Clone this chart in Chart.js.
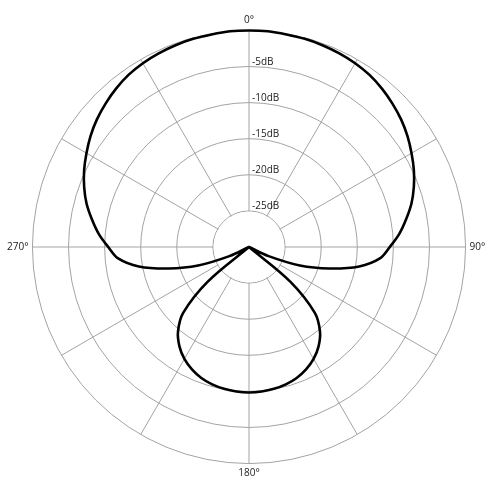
<!DOCTYPE html>
<html>
<head>
<meta charset="utf-8">
<script src="https://cdn.jsdelivr.net/npm/chart.js@4/dist/chart.umd.min.js"></script>
<style>
  html, body { margin: 0; padding: 0; background: #fff; }
  #wrap { width: 500px; height: 500px; position: relative; }
</style>
</head>
<body>
<div id="wrap"><canvas id="polar"></canvas></div>
<script>
"use strict";

// angle around the mic, degrees clockwise from front
const angles = [
    0, 5, 10, 15, 20, 25, 30, 35, 40, 45, 50, 55,
    60, 65, 70, 75, 80, 85, 90, 95, 100, 105, 110, 115,
    120, 125, 130, 135, 140, 145, 150, 155, 160, 165, 170, 175,
    180, 185, 190, 195, 200, 205, 210, 215, 220, 225, 230, 235,
    240, 245, 250, 255, 260, 265, 270, 275, 280, 285, 290, 295,
    300, 305, 310, 315, 320, 325, 330, 335, 340, 345, 350, 355
];

// response in dB (-30 = centre)
const response = [
    0, 0, -0.1, -0.15, -0.25, -0.4, -0.6, -0.9, -1.35, -1.9, -2.5, -3.2,
    -4.0, -4.8, -5.7, -6.7, -7.9, -9.1, -10.5, -11.8, -14.5, -18.5, -22.5, -27,
    -30, -30, -22.5, -17.1, -14.7, -13.2, -12.1, -11.3, -10.7, -10.3, -10.05, -9.9,
    -9.85, -9.9, -10.05, -10.3, -10.7, -11.3, -12.1, -13.2, -14.7, -17.1, -22.5, -30,
    -30, -27, -22.5, -18.5, -14.5, -11.8, -10.5, -9.1, -7.9, -6.7, -5.7, -4.8,
    -4.0, -3.2, -2.5, -1.9, -1.35, -0.9, -0.6, -0.4, -0.25, -0.15, -0.1, 0
];

const shownAngles = [0, 90, 180, 270];
const ringLevels = [-5, -10, -15, -20, -25];

const gridColor = '#a3a3a3';
const textColor = '#222';
const fontFamily = '"Open Sans", "DejaVu Sans", sans-serif';

// white disc so the spokes stop at the innermost ring, plus the dB labels
const polarExtras = {
    id: 'polarExtras',
    beforeDatasetsDraw(chart) {
        const r = chart.scales.r;
        const ctx = chart.ctx;
        const inner = r.getDistanceFromCenterForValue(-25);
        ctx.save();
        ctx.fillStyle = '#fff';
        ctx.beginPath();
        ctx.arc(r.xCenter, r.yCenter, inner - 0.6, 0, Math.PI * 2);
        ctx.fill();
        ctx.restore();
    },
    afterDatasetsDraw(chart) {
        const r = chart.scales.r;
        const ctx = chart.ctx;
        ctx.save();
        ctx.fillStyle = textColor;
        ctx.font = '10px ' + fontFamily;
        ctx.textAlign = 'left';
        ctx.textBaseline = 'alphabetic';
        ringLevels.forEach(function(v) {
            const d = r.getDistanceFromCenterForValue(v);
            ctx.fillText(v + 'dB', r.xCenter + 3, r.yCenter - d - 2);
        });
        ctx.restore();
    }
};

new Chart(document.getElementById('polar'), {
    type: 'radar',
    data: {
        labels: angles.map(a => a + '°'),
        datasets: [{
            data: response,
            borderColor: '#000',
            borderWidth: 2.6,
            borderJoinStyle: 'round',
            pointRadius: 0,
            pointHoverRadius: 0,
            fill: false,
            tension: 0.35
        }]
    },
    options: {
        responsive: true,
        maintainAspectRatio: false,
        animation: false,
        layout: {
            padding: { top: 8, bottom: 14, left: 5, right: 11 }
        },
        plugins: {
            legend: { display: false },
            tooltip: { enabled: false }
        },
        scales: {
            r: {
                min: -30,
                max: 0,
                ticks: { stepSize: 5, display: false },
                grid: { circular: true, color: gridColor, lineWidth: 1 },
                angleLines: {
                    color: ctx => (ctx.index % 6 === 0 ? gridColor : 'rgba(0,0,0,0)'),
                    lineWidth: 1
                },
                pointLabels: {
                    padding: 4,
                    color: textColor,
                    font: { size: 10, family: fontFamily },
                    callback: (label, i) => (shownAngles.indexOf(angles[i]) >= 0 ? label : '')
                }
            }
        }
    },
    plugins: [polarExtras]
});
</script>
</body>
</html>
